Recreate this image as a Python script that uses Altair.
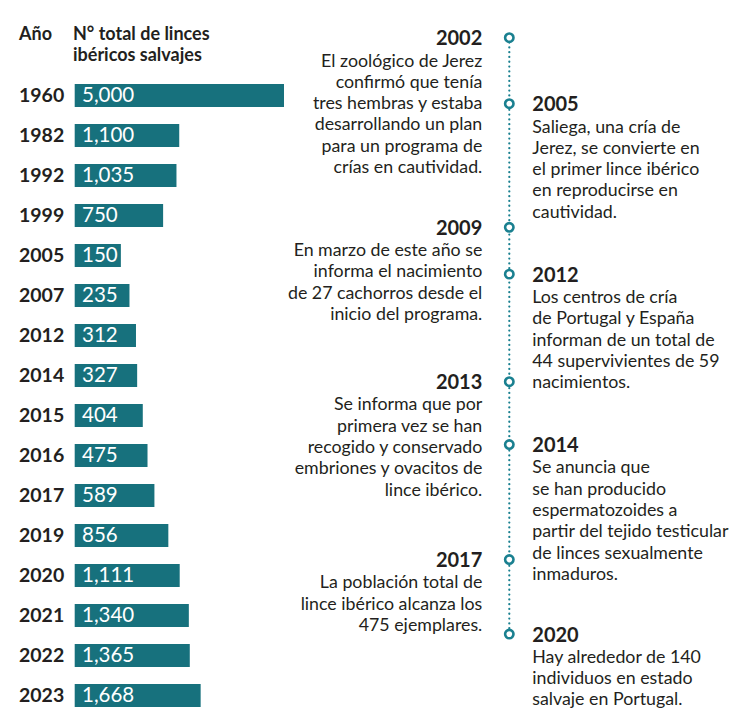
import altair as alt
import pandas as pd

# ---------------- data ----------------
years = ["1960", "1982", "1992", "1999", "2005", "2007", "2012", "2014",
         "2015", "2016", "2017", "2019", "2020", "2021", "2022", "2023"]
lynx = [5000, 1100, 1035, 750, 150, 235, 312, 327,
        404, 475, 589, 856, 1111, 1340, 1365, 1668]

event_years = ["2002", "2005", "2009", "2012", "2013", "2014", "2017", "2020"]
event_side = ["left", "right", "left", "right", "left", "right", "left", "right"]
event_text = [
    "El zoológico de Jerez\nconfirmó que tenía\ntres hembras y estaba\ndesarrollando un plan\npara un programa de\ncrías en cautividad.",
    "Saliega, una cría de\nJerez, se convierte en\nel primer lince ibérico\nen reproducirse en\ncautividad.",
    "En marzo de este año se\ninforma el nacimiento\nde 27 cachorros desde el\ninicio del programa.",
    "Los centros de cría\nde Portugal y España\ninforman de un total de\n44 supervivientes de 59\nnacimientos.",
    "Se informa que por\nprimera vez se han\nrecogido y conservado\nembriones y ovacitos de\nlince ibérico.",
    "Se anuncia que\nse han producido\nespermatozoides a\npartir del tejido testicular\nde linces sexualmente\ninmaduros.",
    "La población total de\nlince ibérico alcanza los\n475 ejemplares.",
    "Hay alrededor de 140\nindividuos en estado\nsalvaje en Portugal.",
]
# position of each event along the timeline, in text lines from the first event
event_line = [0, 3.1, 8.9, 11.1, 16.15, 19.1, 24.5, 28.0]

header_year = "Año"
header_value = "N° total de linces\nibéricos salvajes"

# ---------------- style / layout ----------------
W, H = 728, 701
BAR = "#17717d"
DOT = "#1a8090"
INK = "#231f20"
FONT = "Lato"
LINE_H = 21.3

bars_df = pd.DataFrame({"year": years, "value": lynx})
ev_df = pd.DataFrame({"year": event_years, "side": event_side,
                      "text": event_text, "line": event_line})

yband = alt.Scale(domain=years, range=[67.5, 707.5],
                  paddingInner=0.425, paddingOuter=0.2125)
xsqrt = alt.Scale(type="sqrt", domain=[0, 5000], range=[78.7, 276])

base = alt.Chart(bars_df)
bars = base.mark_rect(color=BAR).encode(
    y=alt.Y("year:N", scale=yband, axis=None),
    x=alt.X("value:Q", scale=xsqrt, axis=None, stack=None),
    x2=alt.value(66.7),
)
year_lbl = base.mark_text(align="left", baseline="alphabetic", dy=6.2,
                          font=FONT, fontWeight="bold", fontSize=19.5,
                          color=INK).encode(
    y=alt.Y("year:N", scale=yband, axis=None),
    x=alt.value(11),
    text="year:N",
)
val_lbl = base.mark_text(align="left", baseline="alphabetic", dy=6.2,
                         font=FONT, fontSize=20.5, color="white").encode(
    y=alt.Y("year:N", scale=yband, axis=None),
    x=alt.value(74),
    text=alt.Text("value:Q", format=","),
)

hdr_df = pd.DataFrame({"k": [0]})
hdr1 = alt.Chart(hdr_df).mark_text(
    align="left", baseline="alphabetic", font=FONT, fontWeight="bold",
    fontSize=18, color=INK).encode(
    x=alt.value(11), y=alt.value(32), text=alt.value(header_year))
hdr2 = alt.Chart(hdr_df).mark_text(
    align="left", baseline="alphabetic", font=FONT, fontWeight="bold",
    fontSize=18, color=INK, lineBreak="\n", lineHeight=20.5).encode(
    x=alt.value(65), y=alt.value(32), text=alt.value(header_value))

left_panel = alt.layer(bars, year_lbl, val_lbl, hdr1, hdr2)

# ---------------- timeline ----------------
ylin = alt.Scale(domain=[0, 28], range=[29.7, 29.7 + 28 * LINE_H])
ev = alt.Chart(ev_df)
TL_X = 501.3

rule = ev.mark_rule(color=DOT, strokeWidth=2.2, strokeDash=[0.1, 4.7],
                    strokeCap="round").encode(
    x=alt.value(TL_X),
    y=alt.Y("min(line):Q", scale=ylin, axis=None),
    y2="max(line):Q",
)
circles = ev.mark_point(shape="circle", filled=False, fill="white",
                        fillOpacity=1, stroke=DOT, strokeWidth=2.6,
                        size=70, opacity=1).encode(
    x=alt.value(TL_X),
    y=alt.Y("line:Q", scale=ylin, axis=None),
)


def side_layers(side, xpos, align):
    d = ev.transform_filter(alt.datum.side == side)
    title = d.mark_text(align=align, baseline="alphabetic", dy=7.5,
                        font=FONT, fontWeight="bold", fontSize=20,
                        color=INK).encode(
        x=alt.value(xpos),
        y=alt.Y("line:Q", scale=ylin, axis=None),
        text="year:N",
    )
    body = d.mark_text(align=align, baseline="alphabetic",
                       dy=7.5 + LINE_H, font=FONT, fontSize=17.8,
                       color=INK, lineBreak="\n",
                       lineHeight=LINE_H).encode(
        x=alt.value(xpos),
        y=alt.Y("line:Q", scale=ylin, axis=None),
        text="text:N",
    )
    return [title, body]


timeline = alt.layer(rule, circles,
                     *side_layers("left", 474.3, "right"),
                     *side_layers("right", 524.3, "left"))

chart = alt.layer(left_panel, timeline).resolve_scale(
    x="independent", y="independent"
).properties(
    width=W, height=H, padding=0,
    autosize=alt.AutoSizeParams(type="none"),
).configure_view(stroke=None)

chart.save("out.html", embed_options={"renderer": "svg", "actions": False})
